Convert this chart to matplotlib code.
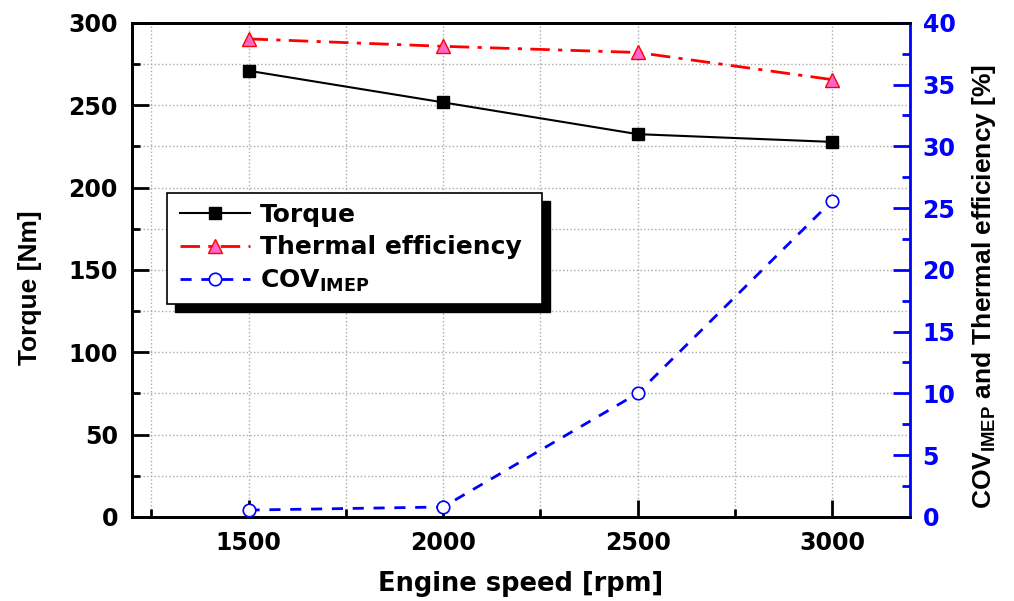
import matplotlib
matplotlib.use("Agg")
import matplotlib.pyplot as plt
from matplotlib.ticker import MultipleLocator
from matplotlib.patches import Rectangle

plt.rcParams['font.family'] = ['DejaVu Sans']
plt.rcParams['font.weight'] = 'bold'
plt.rcParams['mathtext.default'] = 'regular'

# Data
speed = [1500, 2000, 2500, 3000]
torque = [270.9, 251.7, 232.4, 227.7]
thermal_eff = [38.7, 38.1, 37.6, 35.4]
cov_imep = [0.55, 0.8, 10.0, 25.6]

fig = plt.figure(figsize=(10.14, 6.01), dpi=100)
ax = fig.add_axes([0.130, 0.140, 0.7675, 0.822])
ax2 = ax.twinx()

blue = '#0000FF'

l1, = ax.plot(speed, torque, color='black', lw=1.5, marker='s', ms=8,
              mfc='black', mec='black', label='Torque', zorder=5)
l2, = ax2.plot(speed, thermal_eff, color='#FF0000', lw=2, ls=(0, (7, 3, 1.5, 3)),
               marker='^', ms=10, mfc='#FF66CC', mec='#FF0000', mew=1,
               label='Thermal efficiency', zorder=5)
l3, = ax2.plot(speed, cov_imep, color=blue, lw=2, ls=(0, (4, 3.5)),
               marker='o', ms=9, mfc='white', mec=blue, mew=1.2,
               label=r'COV$_{IMEP}$', zorder=5)

ax.set_xlim(1200, 3200)
ax.set_ylim(0, 300)
ax2.set_ylim(0, 40)

ax.xaxis.set_major_locator(MultipleLocator(500))
ax.xaxis.set_minor_locator(MultipleLocator(250))
ax.yaxis.set_major_locator(MultipleLocator(50))
ax.yaxis.set_minor_locator(MultipleLocator(25))
ax2.yaxis.set_major_locator(MultipleLocator(5))
ax2.yaxis.set_minor_locator(MultipleLocator(2.5))

ax.grid(True, which='both', ls=':', color='#aaaaaa', lw=1)
ax.set_axisbelow(True)

ax.tick_params(axis='both', which='major', direction='in', length=12, width=2,
               labelsize=17)
ax.tick_params(axis='y', which='major', pad=10)
ax.tick_params(axis='x', which='major', pad=10)
ax.tick_params(axis='both', which='minor', direction='in', length=6, width=2)
ax.tick_params(axis='x', which='both', top=False)
ax2.tick_params(axis='y', which='major', direction='in', length=12, width=2,
                labelsize=17, colors=blue, pad=9)
ax2.tick_params(axis='y', which='minor', direction='in', length=6, width=2,
                colors=blue)

for lab in ax.get_xticklabels() + ax.get_yticklabels() + ax2.get_yticklabels():
    lab.set_fontweight('bold')

for s in ['left', 'bottom', 'top']:
    ax.spines[s].set_linewidth(2)
    ax2.spines[s].set_linewidth(2)
ax2.spines['right'].set_linewidth(2)
ax2.spines['right'].set_color(blue)
ax.spines['right'].set_visible(False)

ax.set_xlabel('Engine speed [rpm]', fontsize=18.5, fontweight='bold')
ax.xaxis.set_label_coords(0.5, -0.11)
ax.set_ylabel('Torque [Nm]', fontsize=19, fontweight='bold',
              family='Liberation Sans')
ax.yaxis.set_label_coords(-0.116, 0.463)
ax2.set_ylabel(r'COV$_{IMEP}$ and Thermal efficiency [%]', fontsize=19,
               fontweight='bold', family='Liberation Sans')
ax2.yaxis.set_label_coords(1.077, 0.466)

leg = ax2.legend(handles=[l1, l2, l3], loc='upper left',
                 bbox_to_anchor=(0.0485, 0.656), borderaxespad=0,
                 prop={'weight': 'bold', 'size': 18},
                 frameon=False, handlelength=2.8,
                 handletextpad=0.4, labelspacing=0.33, borderpad=0.41)
leg.set_zorder(11)

# legend frame and shadow
fig.canvas.draw()
inv = fig.transFigure.inverted()
bb = leg.get_window_extent()
x0, x1 = bb.x0 - 3, bb.x1 + 10
y0, y1 = bb.y0, bb.y1
(fx0, fy0) = inv.transform((x0, y0))
(fx1, fy1) = inv.transform((x1, y1))
dx, dy = 8 / 1014, 8 / 601
shadow = Rectangle((fx0 + dx, fy0 - dy), fx1 - fx0, fy1 - fy0,
                   transform=fig.transFigure, facecolor='black',
                   edgecolor='black', zorder=9, clip_on=False)
frame = Rectangle((fx0, fy0), fx1 - fx0, fy1 - fy0,
                  transform=fig.transFigure, facecolor='white',
                  edgecolor='black', lw=1.2, zorder=10, clip_on=False)
ax2.add_patch(shadow)
ax2.add_patch(frame)

fig.savefig('out.png', dpi=100)
